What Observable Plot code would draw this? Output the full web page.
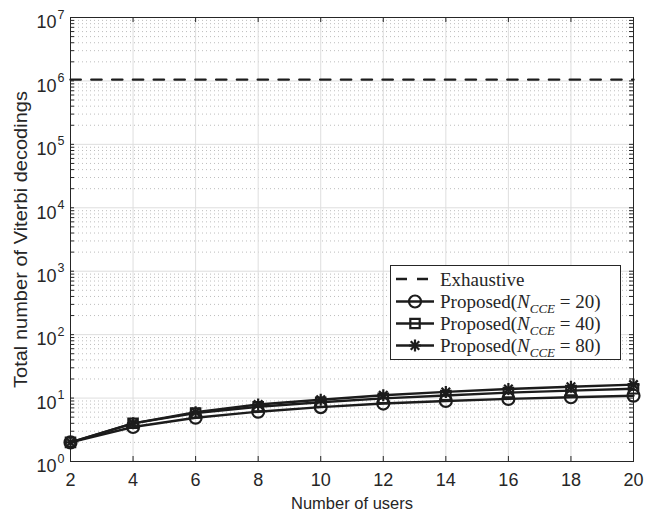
<!DOCTYPE html>
<html><head><meta charset="utf-8">
<script src="https://cdn.jsdelivr.net/npm/d3@7"></script>
<script src="https://cdn.jsdelivr.net/npm/@observablehq/plot@0.6"></script>
<style>body{margin:0;background:#fff}#chart{width:645px;height:515px}</style>
</head><body><div id="chart"></div>
<script>
// ---- data ----
const users = [2, 4, 6, 8, 10, 12, 14, 16, 18, 20];
const exhaustive = [1048576, 1048576, 1048576, 1048576, 1048576, 1048576, 1048576, 1048576, 1048576, 1048576];
const proposed20 = [2, 3.5, 4.9, 6.1, 7.2, 8.2, 9.0, 9.7, 10.3, 10.9];
const proposed40 = [2, 4.0, 5.8, 7.3, 8.6, 9.9, 11.0, 12.2, 13.1, 14.0];
const proposed80 = [2, 4.0, 6.0, 7.9, 9.4, 11.1, 12.5, 13.9, 15.1, 16.3];
const xTicks = [2, 4, 6, 8, 10, 12, 14, 16, 18, 20];
const yExponents = [0, 1, 2, 3, 4, 5, 6, 7];
const xLabel = "Number of users";
const yLabel = "Total number of Viterbi decodings";
const legendSub = ["20", "40", "80"];
const legendSymbols = ["circle", "square", "star"];

// ---- layout ----
const W = 645, H = 515, mL = 70, mR = 12, mT = 17, mB = 54;
const pw = W - mL - mR, ph = H - mT - mB;
const ink = "#1c1c1c";
const majorY = yExponents.map(e => Math.pow(10, e));
const minorY = [];
for (let e = 0; e < 7; e++) for (let m = 2; m <= 9; m++) minorY.push(m * Math.pow(10, e));

const rows = (vals) => users.map((u, i) => ({u, v: vals[i]}));
const series = [rows(proposed20), rows(proposed40), rows(proposed80)];

const marks = [
  Plot.ruleY(minorY, {stroke: "#b5b5b5", strokeDasharray: "1,3", strokeWidth: 0.9}),
  Plot.ruleY(majorY, {stroke: "#dedede", strokeWidth: 1}),
  Plot.ruleX(xTicks, {stroke: "#dedede", strokeWidth: 1}),
  // inward ticks
  Plot.ruleY(majorY.concat(minorY), {stroke: "#262626", insetRight: pw - 4}),
  Plot.ruleY(majorY.concat(minorY), {stroke: "#262626", insetLeft: pw - 4}),
  Plot.ruleX(xTicks, {stroke: "#262626", insetTop: ph - 5}),
  Plot.ruleX(xTicks, {stroke: "#262626", insetBottom: ph - 5}),
  Plot.frame({stroke: "#262626", strokeWidth: 1}),
  // exhaustive
  Plot.line(rows(exhaustive), {x: "u", y: "v", stroke: ink, strokeWidth: 2.4, strokeDasharray: "10.3,10.5"}),
];
series.forEach((s) => {
  marks.push(Plot.line(s, {x: "u", y: "v", stroke: ink, strokeWidth: 2.4}));
});
const markerStyle = {x: "u", y: "v", stroke: ink, strokeWidth: 2.2, fill: "none"};
marks.push(Plot.dot(series[0], {...markerStyle, symbol: "circle", r: 6}));
marks.push(Plot.dot(series[1], {...markerStyle, symbol: "square", r: 5.3}));
marks.push(Plot.dot(series[2], {...markerStyle, symbol: "plus", r: 3.95}));
marks.push(Plot.dot(series[2], {...markerStyle, symbol: "times", r: 3.95}));
// tick labels
marks.push(Plot.text(xTicks, {x: d => d, y: 1, dy: 19, text: d => String(d), fontSize: 18, fill: "#262626", lineAnchor: "middle", textAnchor: "middle"}));
marks.push(Plot.text(majorY, {x: 2, y: d => d, dx: -14, dy: 5, text: () => "10", textAnchor: "end", fontSize: 18, fill: "#262626", lineAnchor: "middle"}));
marks.push(Plot.text(yExponents, {x: 2, y: e => Math.pow(10, e), dx: -13, dy: -3, text: e => String(e), textAnchor: "start", fontSize: 12.5, fill: "#262626", lineAnchor: "middle"}));
marks.push(Plot.text([xLabel], {frameAnchor: "bottom", dy: 42, text: d => d, fontSize: 16.5, fill: "#262626", lineAnchor: "middle", textAnchor: "middle"}));
marks.push(Plot.text([yLabel], {frameAnchor: "left", dx: -49, rotate: -90, text: d => d, fontSize: 17.5, fill: "#262626", lineAnchor: "middle", textAnchor: "middle"}));

const svg = Plot.plot({
  width: W, height: H, marginLeft: mL, marginRight: mR, marginTop: mT, marginBottom: mB,
  x: {domain: [2, 20], axis: null},
  y: {type: "log", domain: [1, 1e7], axis: null},
  style: {fontFamily: "'Liberation Sans', Arial, sans-serif", background: "white", overflow: "visible"},
  marks
});

const s = d3.select(svg);
// stretch the y label along its direction, as in the reference
s.selectAll("text").filter(function() { return this.textContent === yLabel; })
  .attr("textLength", 297).attr("lengthAdjust", "spacingAndGlyphs");

// ---- legend (inside the plot area) ----
const lg = s.append("g");
const bx = 390.5, by = 265.5, bw = 230, bh = 94;
lg.append("rect").attr("x", bx).attr("y", by).attr("width", bw).attr("height", bh)
  .attr("fill", "white").attr("stroke", "#262626").attr("stroke-width", 1);
const rowY = [279, 301.5, 323.5, 345.5];
const lx0 = 396, lx1 = 434, mx = 415, tx = 440;
const addText = (y) => lg.append("text").attr("x", tx).attr("y", y).attr("dy", "0.35em")
  .attr("text-anchor", "start")
  .attr("font-family", "'Liberation Serif', 'Times New Roman', serif").attr("font-size", 19).attr("fill", "#262626");
// exhaustive row
lg.append("line").attr("x1", lx0).attr("x2", lx1).attr("y1", rowY[0]).attr("y2", rowY[0])
  .attr("stroke", ink).attr("stroke-width", 2.4).attr("stroke-dasharray", "11,10");
addText(rowY[0]).text("Exhaustive");
const symPaths = {
  circle: [[d3.symbolCircle, 6]],
  square: [[d3.symbolSquare, 5.3]],
  star: [[d3.symbolPlus, 3.95], [d3.symbolTimes, 3.95]]
};
legendSymbols.forEach((sym, k) => {
  const y = rowY[k + 1];
  lg.append("line").attr("x1", lx0).attr("x2", lx1).attr("y1", y).attr("y2", y)
    .attr("stroke", ink).attr("stroke-width", 2.4);
  symPaths[sym].forEach(([type, r]) => {
    lg.append("path").attr("d", d3.symbol(type, r * r * Math.PI)())
      .attr("transform", `translate(${mx},${y})`).attr("fill", "none")
      .attr("stroke", ink).attr("stroke-width", 2.2);
  });
  const t = addText(y);
  t.append("tspan").text("Proposed(");
  t.append("tspan").attr("font-style", "italic").text("N");
  t.append("tspan").attr("font-style", "italic").attr("font-size", 13).attr("dy", "5").text("CCE");
  t.append("tspan").attr("dy", "-5").text(" = " + legendSub[k] + ")");
});

document.getElementById("chart").appendChild(svg);
</script>
</body></html>
